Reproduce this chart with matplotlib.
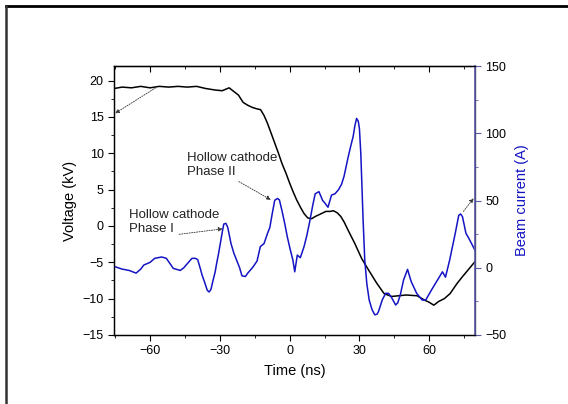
import numpy as np
import matplotlib
matplotlib.use("Agg")
import matplotlib.pyplot as plt
from matplotlib.ticker import MultipleLocator
from matplotlib.lines import Line2D

plt.rcParams['font.family'] = ['Liberation Sans', 'DejaVu Sans']

# voltage trace (kV), left axis
t_volt = [-75.5, -72, -68, -64, -60, -56, -52, -48, -44, -40, -36, -32, -29, -27.5, -26,
          -24, -22, -20, -18, -16, -14, -12.5, -11, -9.5, -8, -6.4, -4.8, -3.3, -1.5, 0,
          1.5, 3, 4.6, 6.2, 7.8, 9.5, 11, 13, 15.6, 17.5, 18.8, 20.5, 22, 23.5, 25,
          28, 31, 34.4, 37.5, 40.6, 43.8, 47, 50, 54.8, 58, 60, 62, 64, 66.5, 69,
          72, 74.5, 76.6, 79.7]
voltage = [18.9, 19.1, 19.0, 19.2, 19.0, 19.2, 19.1, 19.2, 19.1, 19.2, 18.9, 18.7, 18.6, 18.8, 19.0,
           18.5, 18.0, 17.0, 16.6, 16.3, 16.1, 16.0, 15.2, 14.1, 12.8, 11.4, 10.0, 8.6, 7.2, 5.9,
           4.7, 3.6, 2.6, 1.7, 1.1, 1.0, 1.3, 1.6, 2.0, 2.0, 2.1, 1.8, 1.3, 0.5, -0.5,
           -2.4, -4.5, -6.3, -7.9, -9.3, -9.7, -9.6, -9.5, -9.6, -10.2, -10.5, -10.9, -10.4, -10.0, -9.3,
           -7.9, -6.9, -6.1, -4.9]

# beam current trace (A), right axis
t_curr = [-75.5, -72, -69, -66, -64, -62.7, -60, -58, -55, -53, -51, -50, -47, -45.5, -44,
          -42, -40.5, -39.5, -38.5, -37.6, -36.5, -35.4, -34.6, -33.8, -33, -32, -31.4, -30.5, -29.6, -28.8,
          -28.3, -27.4, -26.6, -25.2, -24, -22.8, -21.5, -20.5, -19, -18, -16.5, -15.7, -14, -12.6, -11,
          -9.5, -8.5, -7.5, -6.4, -5.2, -4.4, -3.3, -2, -1, 0.2, 1.4, 2.2, 3.3, 4.6, 6.2,
          7.4, 8.6, 10, 11, 12.6, 14.2, 15.2, 16.5, 18, 19.5, 21, 22.3, 23.4, 25, 26.2,
          27.3, 28.1, 28.8, 29.5, 30, 30.6, 31, 31.6, 32.3, 33.2, 34.2, 35.4, 36.6, 37.6, 38.2,
          39.8, 41.3, 42.5, 43.6, 45.6, 46.5, 47.6, 49, 50.7, 52.2, 54.6, 57, 58.5, 61, 64,
          65.7, 67, 68.8, 71.2, 72.7, 73.5, 74.3, 75.8, 77, 78.2, 79.7]
current = [1, -1, -2, -4, -1, 2, 4, 7, 8, 7, 2, -0.5, -2, 0, 3,
           7, 7, 6, 0, -5.6, -11, -16.8, -18, -16, -10, -3, 3, 11, 20, 28,
           32.5, 33, 30, 18, 11, 5.7, 0, -6, -6.5, -4, -1, 0.7, 5, 15.7, 18,
           25.6, 30, 40, 50.2, 51.5, 50.5, 42.5, 32, 23, 14, 5.7, -3, 9.4, 7.5, 15.7,
           24, 34, 47, 55, 56.6, 50, 48, 45, 54, 55, 58, 62, 68, 81, 90,
           97.5, 106, 111, 109, 103.6, 85, 65, 35, 5.7, -12, -24, -31, -35, -34.5, -32.6,
           -24, -19, -19, -21.5, -27.7, -26, -20, -9, -1.2, -10, -19, -24, -24, -16.5, -7.9,
           -3, -7, 5.7, 25.6, 39, 40, 38, 25.6, 22, 18, 13]

blue = '#1414c4'
spine_blue = '#5a5aaa'

fig = plt.figure(figsize=(5.68, 4.04), dpi=100)
ax = fig.add_axes([0.2007, 0.1708, 0.6356, 0.6658])
ax2 = ax.twinx()

ax.plot(t_volt, voltage, color='black', lw=1.1, zorder=3)
ax2.plot(t_curr, current, color=blue, lw=1.1)

ax.set_xlim(-75.5, 79.7)
ax.set_ylim(-15, 22)
ax2.set_ylim(-50, 150)

ax.xaxis.set_major_locator(MultipleLocator(30))
ax.xaxis.set_minor_locator(MultipleLocator(15))
ax.yaxis.set_major_locator(MultipleLocator(5))
ax.yaxis.set_minor_locator(MultipleLocator(2.5))
ax2.yaxis.set_major_locator(MultipleLocator(50))
ax2.yaxis.set_minor_locator(MultipleLocator(25))

ax.tick_params(axis='x', which='both', direction='out', top=False, labelsize=9)
ax.tick_params(axis='x', which='major', length=4)
ax.tick_params(axis='x', which='minor', length=2.5)
ax.tick_params(axis='y', which='major', direction='out', length=4, labelsize=9)
ax.tick_params(axis='y', which='minor', direction='out', length=2.5)
ax2.tick_params(axis='y', which='major', direction='out', length=4, labelsize=9,
                color=spine_blue)
ax2.tick_params(axis='y', which='minor', direction='out', length=2.5, color=spine_blue)

# inward ticks along the top edge
sec = ax.secondary_xaxis('top')
sec.xaxis.set_major_locator(MultipleLocator(30))
sec.xaxis.set_minor_locator(MultipleLocator(15))
sec.tick_params(which='both', direction='in', labeltop=False)
sec.tick_params(which='major', length=4)
sec.tick_params(which='minor', length=2.5)

for s in ax.spines.values():
    s.set_linewidth(0.9)
for s in ax2.spines.values():
    s.set_linewidth(0.9)
ax2.spines['right'].set_color(spine_blue)
ax2.spines['right'].set_linewidth(1.2)

ax.set_xlabel('Time (ns)', fontsize=10.5, labelpad=5)
ax.set_ylabel('Voltage (kV)', fontsize=10.5, labelpad=4)
ax2.set_ylabel('Beam current (A)', fontsize=10.5, color=blue, labelpad=6)

arrow = dict(arrowstyle='-|>', color='#333333', lw=0.6, linestyle=(0, (1.5, 1.5)),
             mutation_scale=6, shrinkA=0, shrinkB=0)
ax.annotate('', xy=(-75.0, 15.5), xytext=(-57.6, 19.0), arrowprops=arrow)
ax.annotate('', xy=(-8.1, 3.6), xytext=(-21.8, 6.1), arrowprops=arrow)
ax.annotate('', xy=(-28.8, -0.4), xytext=(-47.5, -1.15), arrowprops=arrow)
ax.annotate('', xy=(79.1, 3.8), xytext=(74.7, 2.0), arrowprops=arrow)

ax.text(-44.3, 8.4, 'Hollow cathode\nPhase II', fontsize=9.5, ha='left', va='center',
        linespacing=1.25, color='#222222')
ax.text(-69.2, 0.56, 'Hollow cathode\nPhase I', fontsize=9.5, ha='left', va='center',
        linespacing=1.25, color='#222222')

# outer frame lines of the picture
fig.add_artist(Line2D([5.5 / 568, 1.0], [1 - 5.5 / 404, 1 - 5.5 / 404],
                      transform=fig.transFigure, color='black', lw=2))
fig.add_artist(Line2D([5.5 / 568, 5.5 / 568], [0.0, 1 - 5.5 / 404],
                      transform=fig.transFigure, color='#333333', lw=1.8))

fig.savefig('out.png', dpi=100)
